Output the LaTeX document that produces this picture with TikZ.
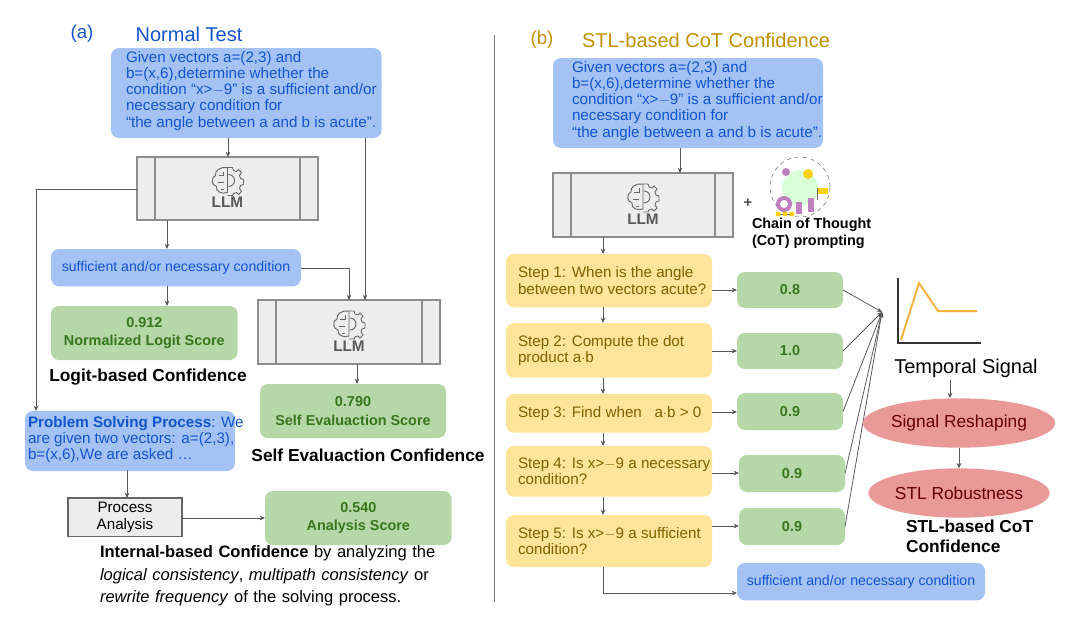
\documentclass[tikz,border=0pt]{standalone}
\usepackage{fontspec}
\setmainfont{Liberation Sans}
\usetikzlibrary{shapes.geometric,arrows.meta,calc}
\definecolor{qblue}{HTML}{A4C2F4}
\definecolor{tblue}{HTML}{1155CC}
\definecolor{gfill}{HTML}{B6D7A8}
\definecolor{gtext}{HTML}{38761D}
\definecolor{yfill}{HTML}{FFE599}
\definecolor{ytext}{HTML}{7F6000}
\definecolor{rfill}{HTML}{EA9999}
\definecolor{rtext}{HTML}{660000}
\definecolor{gold}{HTML}{BF9000}
\definecolor{orng}{HTML}{F6B242}
\begin{document}
\begin{tikzpicture}[x=0.75pt,y=-0.75pt,
  every node/.style={inner sep=0pt,outer sep=0pt},
  fs/.style={font=\fontsize{11.4}{12.2}\selectfont},
  fss/.style={font=\fontsize{10.6}{12}\selectfont},
  blue box/.style={draw=none,fill=qblue,rounded corners=6pt,fs,text=tblue},
  green box/.style={fill=gfill,rounded corners=6pt,text=gtext,font=\fontsize{10.8}{14}\selectfont\bfseries,align=center},
  stepbox/.style={fill=yfill,rounded corners=6pt,minimum width=154.5pt},
  llm/.style={draw=black!45,fill=black!7,line width=0.8pt},
  arr/.style={-{Stealth[length=4pt,width=3.5pt]},draw=black!65,line width=0.6pt},
  lbl/.style={font=\fontsize{13}{15}\selectfont\bfseries}]
\useasboundingbox (0,0) rectangle (1068,618);
\newcommand{\llmbox}[5]{%
  \node[llm,minimum width={(#4-#2)*0.75pt},minimum height={(#5-#3)*0.75pt},anchor=north west] (#1) at (#2,#3) {};
  \draw[black!45,line width=0.8pt] (#2+18,#3)--(#2+18,#5) (#4-18,#3)--(#4-18,#5);
  \begin{scope}[shift={($(#1.center)+(0,-8)$)},y=0.75pt,black!60,line width=0.7pt]
   \draw (0,13) .. controls (-7,14) and (-13,10) .. (-12,5) .. controls (-17,3) and (-16,-5) .. (-11,-6) .. controls (-12,-11) and (-6,-14) .. (0,-12) -- cycle;
   \draw (-9,5) -- (-4,5) -- (-4,9) (-10,-2)--(-4,-2) (-7,-9)--(-4,-9);
   \draw (0,13) -- (5,13) -- (6,10) -- (9,9) -- (11,11) -- (14,8) -- (12,5) -- (13,2) -- (16,1) -- (16,-4) -- (13,-5) -- (12,-8) -- (14,-11) -- (11,-14) -- (9,-12) -- (6,-13) -- (5,-15) -- (0,-15);
   \draw (1,6) arc (90:-90:6);
  \end{scope}
  \node[text=black!65,font=\fontsize{11.5}{12}\selectfont\bfseries] at ($(#1.center)+(0,14)$) {LLM};
}
% ---------- (a)
\node[text=tblue,font=\fontsize{14}{16}\selectfont] at (82,34) {(a)};
\node[text=tblue,font=\fontsize{15}{17}\selectfont] at (189,34) {Normal Test};
\node[blue box,minimum width=203pt,minimum height=67.5pt,anchor=north west] (qa) at (111,48) {};
\node[fs,text=tblue,align=left,anchor=north west] at (126,51) {Given vectors a=(2,3) and\\ b=(x,6),determine whether the\\ condition “x>$-$9” is a sufficient and/or\\ necessary condition for\\ “the angle between a and b is acute”.};
\llmbox{l1}{137}{157}{318}{220}
\draw[arr] (228,138) -- (228,157);
\node[blue box,minimum width=187.5pt,minimum height=28pt,anchor=north west] (s1) at (51,249) {};
\node[fss,text=tblue] at (s1.center) {sufficient and/or necessary condition};
\draw[arr] (167,220) -- (167,249);
\node[green box,minimum width=140pt,minimum height=40.5pt,anchor=north west] (g1) at (51,306) {};
\node[green box,fill=none] at (g1.center) {0.912\\Normalized Logit Score};
\draw[arr] (167,286) -- (167,306);
\node[lbl] at (148,377) {Logit-based Confidence};
\llmbox{l2}{258}{300}{440}{364}
\draw[arr] (301,268) -- (349,268) -- (349,300);
\draw[arr] (365,138) -- (365,300);
\node[green box,minimum width=139.5pt,minimum height=40.5pt,anchor=north west] (g2) at (260,384) {};
\node[green box,fill=none] at (g2.center) {0.790\\Self Evaluaction Score};
\draw[arr] (357,364) -- (357,384);
\node[lbl] at (368,455) {Self Evaluaction Confidence};
\node[blue box,minimum width=157.5pt,minimum height=45pt,anchor=north west] (ps) at (25,411) {};
\node[fs,text=tblue,align=left,anchor=north west] at (28,416) {\textbf{Problem Solving Process}: We\\ are given two vectors: a=(2,3),\\ b=(x,6),We are asked …};
\draw[arr] (137,189) -- (36,189) -- (36,411);
\node[draw=black!60,fill=black!7,line width=0.8pt,minimum width=85.5pt,minimum height=29pt,anchor=north west] (pa) at (68,498) {};
\node[fs,align=center] at (pa.center) {Process\\Analysis};
\draw[arr] (127,470) -- (127,498);
\node[green box,minimum width=140pt,minimum height=40.5pt,anchor=north west] (g3) at (265,491) {};
\node[green box,fill=none] at (g3.center) {0.540\\Analysis Score};
\draw[arr] (182,518) -- (265,518);
\node[text width=277.5pt,anchor=north west,font=\fontsize{12.4}{16.8}\selectfont] at (100,546) {\language=255\noindent\textbf{Internal-based Confidence} by analyzing the\linebreak \textit{logical consistency}, \textit{multipath consistency} or\linebreak \textit{rewrite frequency} of the solving process.};
\draw[black!50,line width=0.6pt] (494,35) -- (494,602);
% ---------- (b)
\node[text=gold,font=\fontsize{14}{16}\selectfont] at (542,40) {(b)};
\node[text=gold,font=\fontsize{15}{17}\selectfont] at (706,40) {STL-based CoT Confidence};
\node[blue box,minimum width=202.5pt,minimum height=67.5pt,anchor=north west] (qb) at (553,58) {};
\node[fs,text=tblue,align=left,anchor=north west] at (572,61) {Given vectors a=(2,3) and\\ b=(x,6),determine whether the\\ condition “x>$-$9” is a sufficient and/or\\ necessary condition for\\ “the angle between a and b is acute”.};
\llmbox{l3}{553}{173}{733}{237}
\draw[arr] (680,148) -- (680,173);
\node[font=\fontsize{11}{12}\selectfont\bfseries,text=black!70] at (748,203) {+};
\begin{scope}[shift={(800,190)}]
 \fill[green!15] (0,-2) circle (18);
 \draw[black!50,dashed,line width=0.5pt] (0,-3) circle (30);
 \fill[violet!50] (-16,14) circle (8);
 \fill[white] (-16,14) circle (4);
 \fill[yellow!70!orange] (8,-16) circle (5);
 \fill[violet!50] (-14,-18) circle (4);
 \fill[violet!50] (8,8) rectangle (14,22);
 \fill[violet!50] (-4,12) rectangle (2,24);
 \fill[yellow!70!orange] (18,-2) rectangle (28,4);
 \draw[black!60,line width=0.5pt] (17,-2)--(17,10) (-24,24)--(-6,24);
 \foreach \x in {-22,-15,-8} \fill[yellow!70!orange] (\x,24) circle (2.5);
\end{scope}
\node[font=\fontsize{10.8}{13}\selectfont\bfseries,align=left,anchor=north west] at (752,218) {Chain of Thought\\(CoT) prompting};
\node[stepbox,minimum height=40pt,anchor=north west] (st1) at (506,254) {};
\node[stepbox,minimum height=41pt,anchor=north west] (st2) at (506,323) {};
\node[stepbox,minimum height=29pt,anchor=north west] (st3) at (506,394) {};
\node[stepbox,minimum height=38pt,anchor=north west] (st4) at (506,446) {};
\node[stepbox,minimum height=39pt,anchor=north west] (st5) at (506,515) {};
\node[fs,text=ytext,align=left,anchor=west] at ($(st1.west)+(12,0)$) {Step 1: When is the angle\\between two vectors acute?};
\node[fs,text=ytext,align=left,anchor=west] at ($(st2.west)+(12,0)$) {Step 2: Compute the dot\\product a$\cdot$b};
\node[fs,text=ytext,align=left,anchor=west] at ($(st3.west)+(12,0)$) {Step 3: Find when \ \ a$\cdot$b > 0};
\node[fs,text=ytext,align=left,anchor=west] at ($(st4.west)+(12,0)$) {Step 4: Is x>$-$9 a necessary\\condition?};
\node[fs,text=ytext,align=left,anchor=west] at ($(st5.west)+(12,0)$) {Step 5: Is x>$-$9 a sufficient\\condition?};
\draw[arr] (603,237) -- (603,254);
\draw[arr] (603,307) -- (603,323);
\draw[arr] (603,378) -- (603,394);
\draw[arr] (603,433) -- (603,446);
\draw[arr] (603,497) -- (603,515);
\node[green box,minimum width=79.5pt,minimum height=27pt,anchor=north west] (v1) at (737,272) {0.8};
\node[green box,minimum width=79.5pt,minimum height=27pt,anchor=north west] (v2) at (737,333) {1.0};
\node[green box,minimum width=79.5pt,minimum height=27.75pt,anchor=north west] (v3) at (737,393) {0.9};
\node[green box,minimum width=79.5pt,minimum height=27.75pt,anchor=north west] (v4) at (739,455) {0.9};
\node[green box,minimum width=79.5pt,minimum height=27.75pt,anchor=north west] (v5) at (739,508) {0.9};
\coordinate (hub) at (882,312);
\draw[arr] (712,290) -- (737,290);
\draw[arr] (712,351) -- (737,351);
\draw[arr] (712,412) -- (737,412);
\draw[arr] (712,473) -- (739,473);
\draw[arr] (712,526) -- (739,526);
\foreach \n in {v1,v2,v3,v4,v5} \draw[arr] (\n.east) -- (hub);
\draw[black!80,line width=1pt] (898,278) -- (898,343) -- (981,343);
\draw[orng,line width=1.5pt] (901,340) -- (919,283) -- (938,311) -- (977,311);
\node[font=\fontsize{15}{17}\selectfont] (ts) at (966,368) {Temporal Signal};
\node[ellipse,fill=rfill,minimum width=135pt,minimum height=37pt,text=rtext,font=\fontsize{13}{15}\selectfont] (sr) at (959,423) {Signal Reshaping};
\node[ellipse,fill=rfill,minimum width=135pt,minimum height=37pt,text=rtext,font=\fontsize{13}{15}\selectfont] (rb) at (959,493) {STL Robustness};
\draw[arr] (950,380) -- (950,398);
\draw[arr] (sr.south) -- (rb.north);
\node[lbl,align=left,anchor=north west] at (906,520) {STL-based CoT\\Confidence};
\node[blue box,minimum width=186pt,minimum height=28pt,anchor=north west] (ans) at (737,563) {};
\node[fss,text=tblue] at (ans.center) {sufficient and/or necessary condition};
\draw[arr] (603,567) -- (603,593) -- (737,593);
\end{tikzpicture}
\end{document}
